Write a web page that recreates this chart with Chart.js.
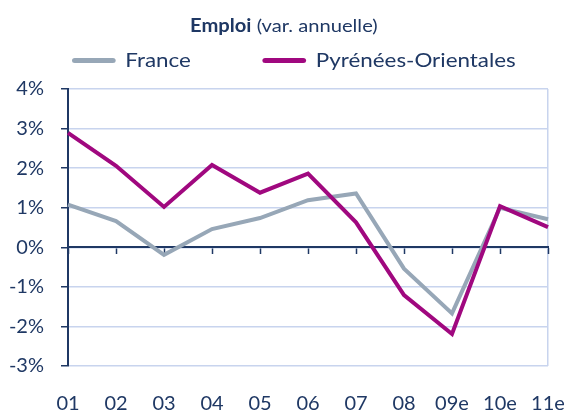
<!DOCTYPE html>
<html><head><meta charset="utf-8">
<script src="https://cdn.jsdelivr.net/npm/chart.js@4/dist/chart.umd.min.js"></script>
<style>
html,body{margin:0;padding:0;background:#fff;}
#wrap{position:relative;width:568px;height:414px;font-family:Lato, sans-serif;color:#1f3864;}
canvas{position:absolute;left:0;top:0;}
#title{position:absolute;left:0;width:568px;top:14px;text-align:center;font-size:18px;line-height:22px;white-space:nowrap;transform:scaleX(1.12);transform-origin:285px 0;}
#title b{font-weight:700;}
#legend{position:absolute;left:72px;top:47px;display:flex;align-items:center;font-size:20px;line-height:24px;white-space:nowrap;transform:scaleX(1.12);transform-origin:0 0;}
.item{display:flex;align-items:center;margin-right:64px;}
.sw{width:38.5px;height:5px;border-radius:2.5px;margin-right:9px;margin-top:2px;}
</style></head>
<body>
<div id="wrap">
<canvas id="c" width="568" height="414"></canvas>
<div id="title"><b>Emploi</b> (var. annuelle)</div>
<div id="legend"></div>
</div>
<script>
const categories = ['01','02','03','04','05','06','07','08','09e','10e','11e'];
const france = [1.08, 0.66, -0.19, 0.46, 0.74, 1.19, 1.36, -0.54, -1.67, 1.00, 0.71];
const pyreneesOrientales = [2.89, 2.06, 1.02, 2.08, 1.38, 1.86, 0.63, -1.21, -2.19, 1.04, 0.51];
const yTicks = [-3, -2, -1, 0, 1, 2, 3, 4];
const seriesNames = ['France', 'Pyrénées-Orientales'];

const NAVY = '#1f3864';
const GRID = '#c8d4ee';
const COLORS = ['#97a7b7', '#a0087f'];
const FONT = {family: 'Lato', size: 20};

// HTML legend built from series names
const leg = document.getElementById('legend');
seriesNames.forEach((n, i) => {
  const it = document.createElement('div'); it.className = 'item';
  const sw = document.createElement('span'); sw.className = 'sw'; sw.style.background = COLORS[i];
  const tx = document.createElement('span'); tx.textContent = n;
  it.appendChild(sw); it.appendChild(tx); leg.appendChild(it);
});

new Chart(document.getElementById('c'), {
  type: 'line',
  data: {
    labels: categories,
    datasets: [
      {label: seriesNames[0], data: france, borderColor: COLORS[0], backgroundColor: COLORS[0], borderWidth: 4, pointRadius: 0, tension: 0, order: 1},
      {label: seriesNames[1], data: pyreneesOrientales, borderColor: COLORS[1], backgroundColor: COLORS[1], borderWidth: 4, pointRadius: 0, tension: 0, order: 0}
    ]
  },
  options: {
    responsive: false,
    devicePixelRatio: 1,
    animation: false,
    layout: {padding: {top: 89, right: 20, left: 0, bottom: 0}},
    plugins: {legend: {display: false}, title: {display: false}, tooltip: {enabled: false}},
    scales: {
      x: {
        type: 'category', position: 'bottom', offset: false,
        grid: {display: true, drawTicks: false, lineWidth: 1.5,
          color: ctx => ctx.index === categories.length - 1 ? GRID : 'rgba(0,0,0,0)'},
        border: {display: false},
        ticks: {color: NAVY, font: FONT, padding: 26, maxRotation: 0, autoSkip: false},
        afterFit: s => { s.height = 48; s.paddingRight = 0; s.paddingLeft = 0; }
      },
      x2: {
        type: 'category', labels: categories, position: {y: 0}, offset: false,
        min: categories[0], max: categories[categories.length - 1],
        grid: {drawOnChartArea: false, drawTicks: true, tickLength: 6, tickColor: NAVY, tickWidth: 1.5},
        border: {color: NAVY, width: 2},
        ticks: {display: false},
        afterFit: s => { s.height = 0; s.paddingRight = 0; s.paddingLeft = 0; }
      },
      y: {
        min: -3, max: 4,
        afterBuildTicks: s => { s.ticks = yTicks.map(v => ({value: v})); },
        grid: {color: GRID, lineWidth: 1.5, tickLength: 7, tickColor: NAVY, tickWidth: 1.5},
        border: {color: NAVY, width: 2},
        ticks: {color: NAVY, font: FONT, padding: 17, callback: v => v + '%'},
        afterFit: s => { s.width = 68; }
      }
    }
  }
});
</script>
</body></html>
